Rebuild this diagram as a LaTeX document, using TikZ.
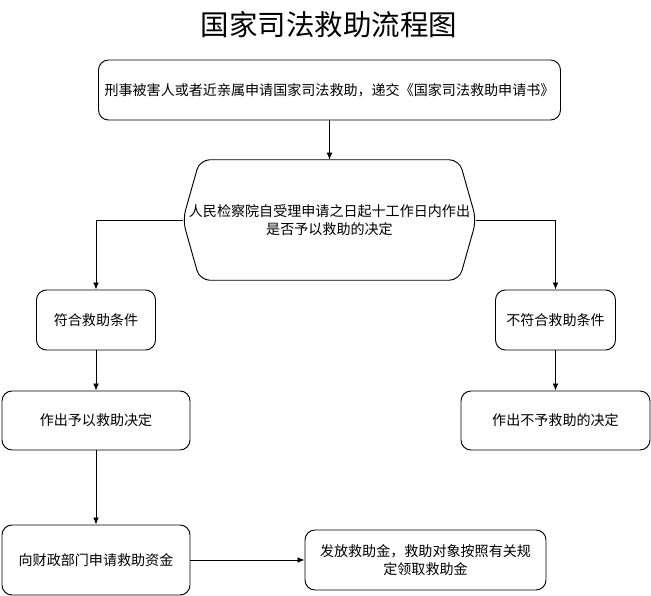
\documentclass[tikz,border=0pt]{standalone}
\usepackage{fontspec}
\setmainfont{Noto Sans CJK SC}
\usetikzlibrary{arrows.meta}
\usetikzlibrary{calc}

\begin{document}
\begin{tikzpicture}[x=0.03cm,y=-0.03cm,>/.tip={Latex[length=6pt,width=5pt]},
	box/.style={draw,line width=0.8pt,rounded corners=0.3cm,align=center,inner sep=0pt,font=\fontsize{12}{15}\selectfont},
	link/.style={->,line width=0.8pt}]
	\useasboundingbox (0,0) rectangle (651,596);
	\node (title) at (329,25) {\fontsize{24.3}{28}\selectfont 国家司法救助流程图};
	\draw (329.5,90) node (req) [box,minimum width=13.86cm,minimum height=1.8cm] {刑事被害人或者近亲属申请国家司法救助，递交《国家司法救助申请书》};
	\draw (329.5,220) node (decide) [align=center,inner sep=0pt,minimum width=8.79cm,minimum height=3.6cm,font=\fontsize{12}{15}\selectfont] {人民检察院自受理申请之日起十工作日内作出\\是否予以救助的决定};
	\draw[line width=0.8pt,rounded corners=0.3cm] (decide.north) -- ($(decide.north east)+(-17,0)$) -- (decide.east) -- ($(decide.south east)+(-17,0)$) -- ($(decide.south west)+(17,0)$) -- (decide.west) -- ($(decide.north west)+(17,0)$) -- cycle;
	\draw (96,320) node (yes) [box,minimum width=3.57cm,minimum height=1.8cm] {符合救助条件};
	\draw (555.5,320) node (no) [box,minimum width=3.6cm,minimum height=1.8cm] {不符合救助条件};
	\draw (96,420.5) node (grant) [box,minimum width=5.64cm,minimum height=1.77cm] {作出予以救助决定};
	\draw (555.5,420.5) node (deny) [box,minimum width=5.67cm,minimum height=1.77cm] {作出不予救助的决定};
	\draw (96,560) node (apply) [box,minimum width=5.64cm,minimum height=2.1cm] {向财政部门申请救助资金};
	\draw (425.5,560) node (release) [box,minimum width=7.23cm,minimum height=1.8cm] {发放救助金，救助对象按照有关规\\定领取救助金};
	\draw[link] (req) -- (decide);
	\draw[link] (decide.west) -| (yes);
	\draw[link] (decide.east) -| (no);
	\draw[link] (yes) -- (grant);
	\draw[link] (no) -- (deny);
	\draw[link] (grant) -- (apply);
	\draw[link] (apply) -- (release);
\end{tikzpicture}
\end{document}
